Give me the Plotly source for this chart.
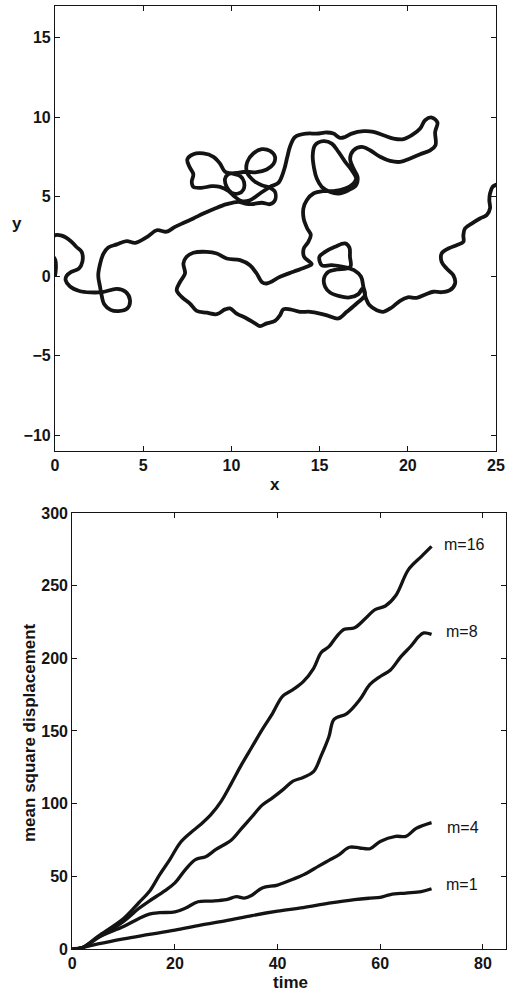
import plotly.graph_objects as go

# random walk trajectory (top panel)
traj_x = [0, 0.05, 0.02, -0.3, -0.2, 0, 0.38, 0.9, 1.2, 1.51, 1.55, 1.35, 0.9, 0.66, 0.6, 0.85, 1.38, 2.0, 2.7,
          3.5, 4.0, 4.25, 4.1, 3.6, 3.15, 2.78, 2.65, 2.55, 2.45, 2.55, 2.74, 3.02, 3.5, 4.06, 4.55, 5.2, 5.77,
          6.33, 6.8, 7.3, 7.84, 8.41, 9.07, 9.73, 10.39,
          10.77, 11.15, 11.72, 12.19, 12.47, 12.47, 12.19, 11.72, 11.34, 11.05, 10.87, 10.9, 11.24, 11.72,
          12.19, 12.47, 12.38, 12.0, 11.43, 10.87, 10.3, 9.83, 9.64, 9.73, 10.02, 10.39, 10.68, 10.71, 10.49,
          10.02, 9.64, 9.35, 8.98, 8.41, 7.84, 7.5, 7.62, 7.84, 7.75, 7.84, 8.31, 8.88, 9.35, 9.83, 10.2,
          10.58, 11.05, 11.62, 12.19, 12.66, 12.98, 13.17, 13.32,
          13.61, 14.27, 14.84, 15.41, 15.78, 16.16, 16.45, 16.82, 17.49, 18.05, 18.62, 19.19, 19.75, 20.23,
          20.7, 20.98, 21.36, 21.68, 21.55, 21.57, 21.27, 20.7, 20.13, 19.57, 19.0, 18.43, 17.86, 17.39,
          16.92, 16.73, 16.92, 17.15, 17.07, 16.64, 16.07, 15.6, 15.12, 14.84, 14.69, 14.61, 14.74, 15.22,
          15.69, 16.07, 16.45, 16.82, 17.07, 16.92, 16.45, 15.78, 15.22, 14.65, 14.27, 14.08, 14.1, 14.3,
          14.5, 14.36, 14.1, 14.12, 14.55,
          14.27, 13.51, 12.76, 12.0, 11.72, 11.43, 11.05, 10.49, 9.73, 9.17, 8.6, 7.84, 7.46, 7.28, 7.37,
          7.09, 6.9, 7.18, 7.65, 8.03, 8.6, 9.17, 9.64, 9.92, 10.3, 10.87, 11.34, 11.62, 12.0, 12.47, 12.76,
          12.94, 13.32, 13.89, 14.46, 15.02, 15.5, 16.06, 16.54, 17.1, 17.57,
          17.48, 17.35, 16.95, 16.34, 15.68, 15.12, 14.99, 15.31, 15.87, 16.44, 16.69, 16.72, 16.76, 16.53,
          15.97, 15.5, 15.25, 15.31, 15.59, 16.12, 16.69, 17.2, 17.44, 17.63, 17.82, 18.24, 18.61, 19.09,
          19.56, 20.0, 20.5, 21.0, 21.45, 21.92, 22.39, 22.68, 22.58, 22.2, 21.92, 21.92, 22.3, 22.77,
          23.15, 23.15, 23.24, 23.62, 24.09, 24.47, 24.66, 24.62, 24.66, 24.81, 25.04, 25.5]
traj_y = [0, 0.5, 1.0, 1.6, 2.3, 2.58, 2.55, 2.2, 1.85, 1.53, 0.9, 0.48, 0.25, 0.02, -0.25, -0.65, -0.93, -1.02,
          -1.0, -0.8, -0.98, -1.51, -2.03, -2.2, -2.12, -1.75, -1.25, -0.65, 0.05, 0.75, 1.4, 1.8, 2.0, 2.2,
          2.1, 2.45, 2.89, 2.8, 3.1, 3.36, 3.63, 3.94, 4.26, 4.53, 4.68,
          4.57, 4.53, 4.62, 4.53, 4.78, 5.31, 5.56, 5.72, 5.94, 6.25, 6.57, 7.19, 7.72, 7.99, 7.88, 7.51,
          7.05, 6.71, 6.54, 6.57, 6.5, 6.42, 6.14, 5.62, 5.24, 5.2, 5.45, 5.94, 6.31, 6.46, 6.57, 7.09, 7.51,
          7.72, 7.67, 7.34, 6.88, 6.42, 5.94, 5.62, 5.56, 5.66, 5.62, 5.37, 4.99, 4.72, 4.78, 5.2, 5.62,
          5.87, 6.67, 7.51, 8.14,
          8.76, 8.97, 8.97, 9.04, 8.97, 8.7, 8.76, 8.97, 9.12, 9.08, 8.87, 8.66, 8.62, 8.87, 9.29, 9.81,
          9.98, 9.66, 9.08, 8.24, 7.92, 7.67, 7.4, 7.19, 7.25, 7.51, 7.92, 8.13, 7.92, 7.4, 6.77, 6.25, 5.72,
          5.41, 5.2, 5.3, 5.62, 6.14, 6.77, 7.61, 8.24, 8.49, 8.34, 7.82, 7.19, 6.67, 6.14, 5.83, 5.51, 5.35,
          5.35, 5.2, 4.78, 4.26, 3.6, 3.0, 2.6, 2.16, 1.74, 1.22, 0.76,
          0.59, 0.28, -0.04, -0.46, -0.36, 0.17, 0.69, 1.01, 1.11, 1.43, 1.53, 1.47, 1.22, 0.8, 0.17, -0.36,
          -0.88, -1.3, -1.72, -2.18, -2.3, -2.39, -2.09, -2.03, -2.35, -2.66, -2.97, -3.14, -2.97, -2.81,
          -2.45, -2.09, -2.09, -2.24, -2.24, -2.35, -2.5, -2.66, -2.24, -1.72, -1.19,
          -0.67, -0.04, 0.38, 0.59, 0.69, 0.69, 1.22, 1.53, 1.85, 2.06, 1.8, 1.22, 0.63, 0.48, 0.42, 0.28,
          -0.14, -0.67, -1.03, -1.26, -1.34, -1.13, -0.77, -1.4, -1.82, -2.14, -2.24, -1.97, -1.55, -1.33,
          -1.36, -1.15, -0.98, -1.01, -0.88, -0.46, 0.06, 0.48, 0.9, 1.43, 1.74, 1.95, 2.16, 2.58, 3.0, 3.31,
          3.63, 3.84, 4.26, 4.78, 5.2, 5.62, 5.77, 6.0]

# mean square displacement curves (bottom panel)
t_m16 = [0, 2, 5, 10, 13, 15, 17, 19, 21, 23, 25, 27, 29, 31, 33, 35, 37, 39, 41, 43, 45, 47, 48.5, 50, 51.5,
         53, 55, 57, 59, 61, 63, 65.5, 68, 70]
msd_m16 = [0, 1, 8.7, 21, 32, 39.5, 51, 61.5, 73, 79.8, 85.6, 92.4, 101.6, 114, 127, 139, 151, 162, 174, 178.5,
           184, 193, 204, 208, 215, 220, 221, 227, 233.5, 236, 243, 261, 270, 277]
t_m8 = [0, 2, 5, 10, 13, 15, 18, 20, 22, 24, 26, 28, 31, 33, 35, 37, 39, 41, 43, 45, 47, 48.5, 50, 51, 53.5,
        56, 58, 60, 62, 64, 66, 67.5, 68.5, 70]
msd_m8 = [0, 1, 7.6, 19, 28, 33, 40, 45.5, 54.5, 61.5, 63.5, 68.5, 75, 83, 91, 99, 104, 109.5, 115.5, 118, 122,
          133, 146, 158, 162, 171.5, 182, 187.5, 192, 201, 208.5, 215, 217.5, 216.5]
t_m4 = [0, 2, 5, 10, 13, 15, 17, 20, 22, 24.5, 27, 30, 32, 33.5, 35, 37, 40, 43, 45, 48, 50, 52, 54, 56, 58,
        60, 63, 65, 67, 70]
msd_m4 = [0, 1, 8, 15.5, 21, 24, 25, 25.5, 28, 32.5, 33, 34, 36, 35, 37, 42, 44, 48, 51, 57, 61, 65, 70, 69.5,
          69, 74, 77.5, 77.5, 83, 87]
t_m1 = [0, 2, 5, 10, 15, 20, 25, 30, 35, 40, 45, 50, 55, 58, 60, 62, 65, 68, 70]
msd_m1 = [0, 1, 3.5, 7, 10, 13, 16.5, 19.5, 23, 26, 28.5, 31.5, 34, 35, 35.5, 37.5, 38.5, 39.5, 41.5]

curve_labels = ["m=16", "m=8", "m=4", "m=1"]
label_t = [76.5, 75.9, 76.2, 75.9]
label_v = [278, 218.6, 83.3, 44.3]

INK = "#141414"
FONT = "Liberation Sans, Arial, sans-serif"

fig = go.Figure()
fig.add_trace(go.Scatter(x=traj_x, y=traj_y, mode="lines", line=dict(color=INK, width=3.8, shape="spline"),
                         xaxis="x", yaxis="y", showlegend=False))
for tt, vv in [(t_m16, msd_m16), (t_m8, msd_m8), (t_m4, msd_m4), (t_m1, msd_m1)]:
    fig.add_trace(go.Scatter(x=tt, y=vv, mode="lines", line=dict(color=INK, width=3.3, shape="spline"),
                             xaxis="x2", yaxis="y2", showlegend=False))

axis_style = dict(showline=True, mirror="ticks", linecolor=INK, linewidth=1.2, ticks="inside", ticklen=5,
                  tickcolor=INK, tickwidth=1.2, showgrid=False, zeroline=False, automargin=False,
                  tickfont=dict(family=FONT, size=16, color=INK, weight="bold"))

fig.update_layout(
    width=508, height=993,
    margin=dict(l=0, r=0, t=0, b=0, pad=0, autoexpand=False),
    paper_bgcolor="white", plot_bgcolor="white",
    xaxis=dict(domain=[0.1083, 0.9764], range=[0, 25], tickvals=[0, 5, 10, 15, 20, 25], anchor="y",
               **axis_style),
    yaxis=dict(domain=[0.5458, 0.994], range=[-11, 17], tickvals=[-10, -5, 0, 5, 10, 15], anchor="x",
               **axis_style),
    xaxis2=dict(domain=[0.1423, 0.997], range=[0, 84.6], tickvals=[0, 20, 40, 60, 80], anchor="y2",
                **axis_style),
    yaxis2=dict(domain=[0.0443, 0.4834], range=[0, 300], tickvals=[0, 50, 100, 150, 200, 250, 300],
                anchor="x2", **axis_style),
)

title_font = dict(family=FONT, size=17, color=INK, weight="bold")
ann = [
    dict(text="x", x=0.541, y=0.5116, xref="paper", yref="paper", showarrow=False, font=title_font),
    dict(text="y", x=0.0335, y=0.7754, xref="paper", yref="paper", showarrow=False, font=title_font),
    dict(text="time", x=0.571, y=0.0101, xref="paper", yref="paper", showarrow=False, font=title_font),
    dict(text="mean square displacement", x=0.057, y=0.2628, xref="paper", yref="paper", showarrow=False,
         textangle=-90, font=title_font),
]
for lab, lt, lv in zip(curve_labels, label_t, label_v):
    ann.append(dict(text=lab, x=lt, y=lv, xref="x2", yref="y2", showarrow=False,
                    font=dict(family=FONT, size=16, color=INK)))
for a in ann:
    a["xanchor"] = "center"
    a["yanchor"] = "middle"
fig.update_layout(annotations=ann)

# the page's default body margin would push the figure 8px right/down
fig.write_html("out.html", config={"displayModeBar": False},
               post_script="document.body.style.margin='0';")
